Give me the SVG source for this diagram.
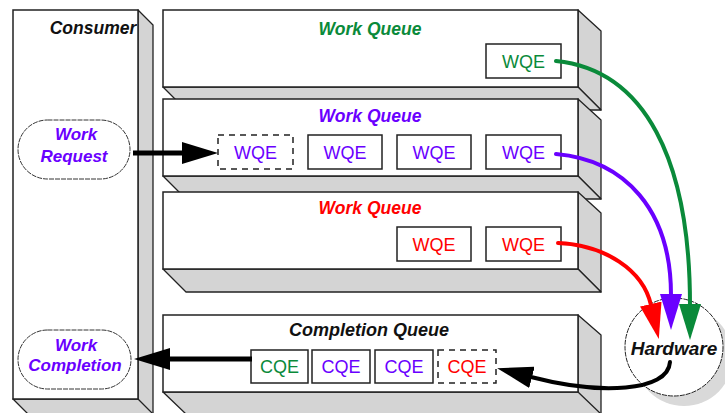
<svg xmlns="http://www.w3.org/2000/svg" width="725" height="413" viewBox="0 0 725 413">
<style>
.front{fill:#fff;stroke:#222;stroke-width:1.5}
.side{fill:#d4d4d4;stroke:#222;stroke-width:1.3;stroke-linejoin:round}
.el{fill:#fff;stroke:#222;stroke-width:1.5}
.dash{fill:#fff;stroke:#222;stroke-width:1.5;stroke-dasharray:6,5}
.pill{fill:#fff;stroke:#333;stroke-width:1;stroke-dasharray:5,1}
.t{font-family:"Liberation Sans",Arial,sans-serif;font-size:18px;text-anchor:middle}
.tb{font-family:"Liberation Sans",Arial,sans-serif;font-size:17.5px;font-style:italic;font-weight:bold;text-anchor:middle}
.g{fill:#0a8a3a}.p{fill:#6a00ff}.r{fill:#ff0000}.k{fill:#111}
.c{fill:none;stroke-width:4;stroke-linecap:round}
</style>
<defs>
<marker id="mg" markerUnits="userSpaceOnUse" viewBox="0 0 36 22" markerWidth="36" markerHeight="22" refX="1" refY="11" orient="auto"><path d="M0,0 L36,11 L0,22 z" fill="#0a8a3a"/></marker>
<marker id="mp" markerUnits="userSpaceOnUse" viewBox="0 0 36 22" markerWidth="36" markerHeight="22" refX="1" refY="11" orient="auto"><path d="M0,0 L36,11 L0,22 z" fill="#6a00ff"/></marker>
<marker id="mr" markerUnits="userSpaceOnUse" viewBox="0 0 36 22" markerWidth="36" markerHeight="22" refX="1" refY="11" orient="auto"><path d="M0,0 L36,11 L0,22 z" fill="#ff0000"/></marker>
<marker id="mk" markerUnits="userSpaceOnUse" viewBox="0 0 36 22" markerWidth="36" markerHeight="22" refX="1" refY="11" orient="auto"><path d="M0,0 L36,11 L0,22 z" fill="#000"/></marker>
</defs>
<rect width="725" height="413" fill="#fff"/>

<g id="consumer">
<polygon class="side" points="138,10 153,25 153,420 138,405"/>
<polygon class="side" points="13,399 138,399 153,414 28,414"/>
<rect class="front" x="13" y="10" width="125" height="389"/>
<text class="tb k" x="93" y="34">Consumer</text>
</g>

<g id="wq1">
<polygon class="side" points="578,10 601,31 601,110 578,87"/>
<polygon class="side" points="163,87 578,87 601,110 186,110"/>
<rect class="front" x="163" y="10" width="415" height="77"/>
<text class="tb g" x="370" y="35">Work Queue</text>
</g>
<g id="wq2">
<polygon class="side" points="578,99 601,120 601,199 578,176"/>
<polygon class="side" points="163,176 578,176 601,199 186,199"/>
<rect class="front" x="163" y="99" width="415" height="77"/>
<text class="tb p" x="370" y="122">Work Queue</text>
</g>
<g id="wq3">
<polygon class="side" points="578,192 601,213 601,292 578,269"/>
<polygon class="side" points="163,269 578,269 601,292 186,292"/>
<rect class="front" x="163" y="192" width="415" height="77"/>
<text class="tb r" x="370" y="214">Work Queue</text>
</g>
<g id="cq">
<polygon class="side" points="578,315 601,335 601,420 578,400"/>
<polygon class="side" points="163,392 578,392 601,414 186,414"/>
<rect class="front" x="163" y="315" width="415" height="77"/>
<text class="tb k" x="369" y="336" style="font-size:18px">Completion Queue</text>
</g>

<g id="wqe1-1"><rect class="el" x="486" y="44" width="75" height="34"/><text class="t g" x="523.5" y="68">WQE</text></g>

<g id="wqe2-1"><rect class="dash" x="218" y="135" width="75" height="34"/><text class="t p" x="255.5" y="159">WQE</text></g>
<g id="wqe2-2"><rect class="el" x="308" y="135" width="74" height="34"/><text class="t p" x="345" y="159">WQE</text></g>
<g id="wqe2-3"><rect class="el" x="397" y="135" width="74" height="34"/><text class="t p" x="434" y="159">WQE</text></g>
<g id="wqe2-4"><rect class="el" x="486" y="135" width="75" height="34"/><text class="t p" x="523.5" y="159">WQE</text></g>

<g id="wqe3-1"><rect class="el" x="397" y="227" width="74" height="34"/><text class="t r" x="434" y="251">WQE</text></g>
<g id="wqe3-2"><rect class="el" x="486" y="227" width="75" height="34"/><text class="t r" x="523.5" y="251">WQE</text></g>

<g id="cqe1"><rect class="el" x="251" y="350" width="57" height="33"/><text class="t g" x="279.5" y="373">CQE</text></g>
<g id="cqe2"><rect class="el" x="312" y="350" width="58" height="33"/><text class="t p" x="341" y="373">CQE</text></g>
<g id="cqe3"><rect class="el" x="375" y="350" width="58" height="33"/><text class="t p" x="404" y="373">CQE</text></g>
<g id="cqe4"><rect class="dash" x="438" y="350" width="58" height="33"/><text class="t r" x="467" y="373">CQE</text></g>

<g id="work-request">
<rect class="pill" x="18" y="120" width="112" height="59" rx="29.5"/>
<text class="tb p" x="76" y="140" style="font-size:17px">Work</text>
<text class="tb p" x="74" y="162" style="font-size:17px">Request</text>
</g>
<g id="work-completion">
<rect class="pill" x="18" y="330" width="113" height="59" rx="29.5"/>
<text class="tb p" x="76" y="351" style="font-size:17px">Work</text>
<text class="tb p" x="75" y="371" style="font-size:17px">Completion</text>
</g>

<g id="hardware">
<circle cx="684" cy="357" r="49" fill="#d9d9d9"/>
<circle cx="674" cy="347" r="49" fill="#fff" stroke="#222" stroke-width="1" stroke-dasharray="5,1"/>
<text class="tb k" x="674" y="355" style="font-size:19px">Hardware</text>
</g>

<g id="connectors">
<path class="c" stroke="#0a8a3a" d="M556,61 C645,70 690,160 690,305" marker-end="url(#mg)"/>
<path class="c" stroke="#6a00ff" d="M556,154 C625,160 671,210 671,295" marker-end="url(#mp)"/>
<path class="c" stroke="#ff0000" d="M558,243 C605,245 643,270 651,305" marker-end="url(#mr)"/>
<path class="c" stroke="#000" d="M670,362 C668,392 600,395 531,377" marker-end="url(#mk)"/>
<path fill="none" stroke="#000" stroke-width="5" d="M133,153 L183,153" marker-end="url(#mk)"/>
<path fill="none" stroke="#000" stroke-width="5" d="M252,359 L169,359" marker-end="url(#mk)"/>
</g>
</svg>
